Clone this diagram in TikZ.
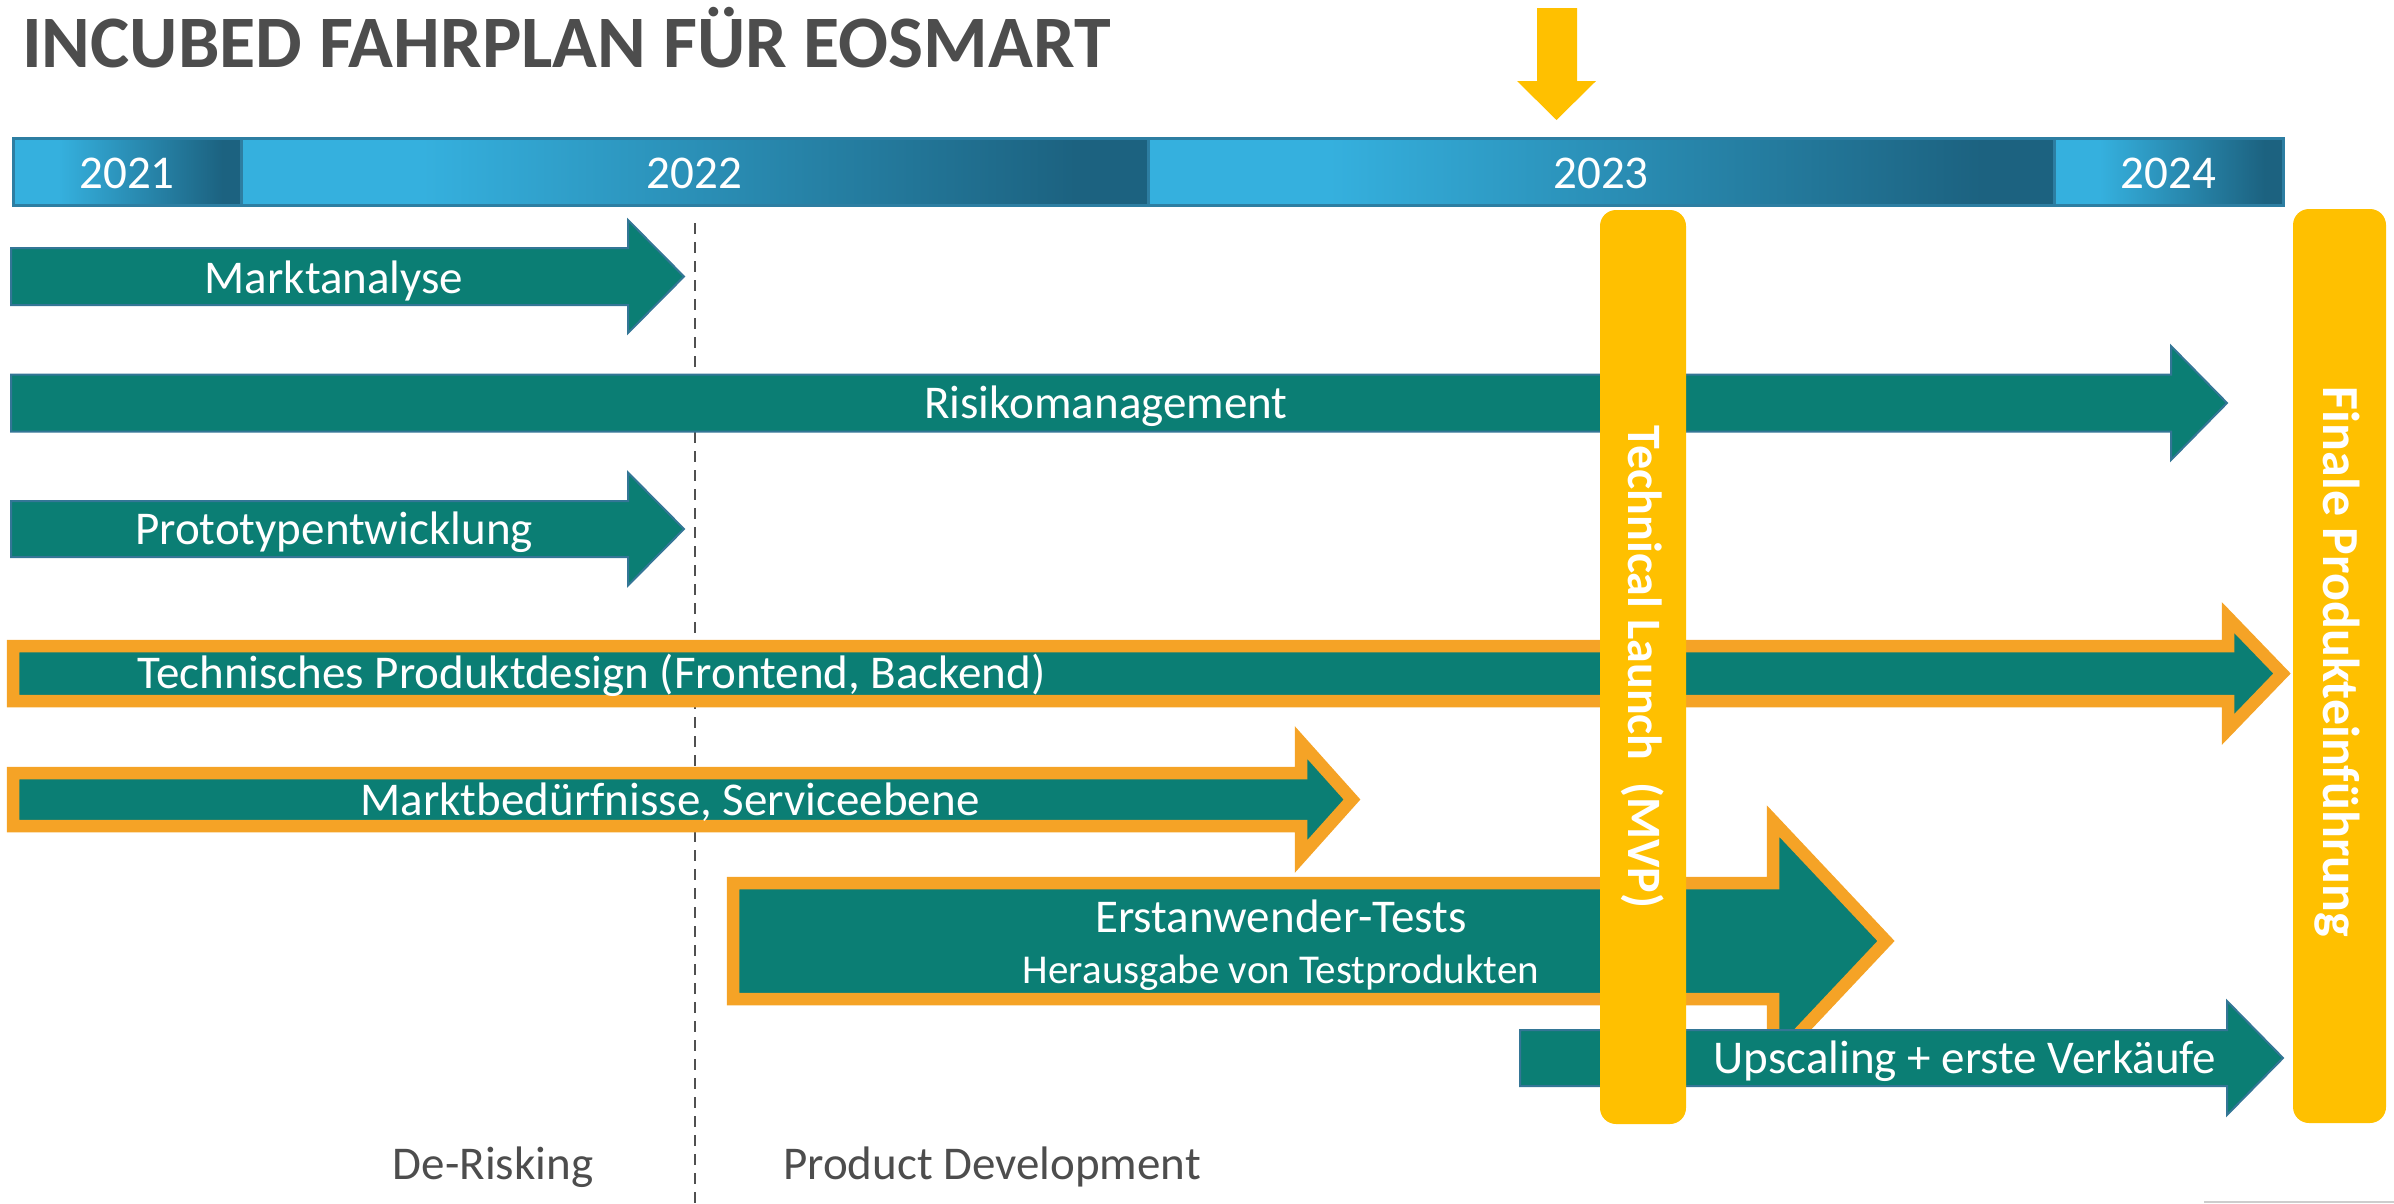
\documentclass[tikz,border=0pt]{standalone}
\usepackage{fontspec}
\setmainfont{Carlito}
\definecolor{taskteal}{RGB}{11,126,116}
\definecolor{tealedge}{RGB}{52,118,150}
\definecolor{ringorange}{RGB}{245,163,38}
\definecolor{mileyellow}{RGB}{255,192,0}
\definecolor{yrlight}{RGB}{53,176,222}
\definecolor{yrdark}{RGB}{28,98,128}
\definecolor{yredge}{RGB}{45,126,162}
\definecolor{inkgray}{RGB}{77,77,77}
\definecolor{dashgray}{RGB}{80,80,80}
\definecolor{rulegray}{RGB}{205,205,205}
\pgfdeclarehorizontalshading{yearshade}{100bp}{color(0bp)=(yrlight); color(35bp)=(yrlight); color(71bp)=(yrdark); color(100bp)=(yrdark)}

% block arrow: [style]{x start}{x head base}{x tip}{y centre}{half body}{half head}
\newcommand\taskarrow[7][]{%
  \path[#1] (#2,#5-#6) -- (#3,#5-#6) -- (#3,#5-#7) -- (#4,#5) -- (#3,#5+#7)
    -- (#3,#5+#6) -- (#2,#5+#6) -- cycle;}

\begin{document}
\begin{tikzpicture}[x=1pt,y=-1pt,
  plainarrow/.style={fill=taskteal, draw=tealedge, line width=2, line join=miter},
  ringarrow/.style={fill=taskteal, draw=ringorange, line width=12.5, line join=miter},
  yearseg/.style={shade, shading=yearshade, draw=yredge, line width=3},
  yearlabel/.style={anchor=base, inner sep=0, text=white, font=\fontsize{47}{56}\selectfont},
  tasklabel/.style={anchor=base, inner sep=0, text=white, font=\fontsize{47}{56}\selectfont},
  phaselabel/.style={anchor=base, inner sep=0, text=inkgray, font=\fontsize{47}{56}\selectfont},
  milestone/.style={fill=mileyellow, rounded corners=16},
  milelabel/.style={anchor=base, inner sep=0, rotate=-90, text=white}]
\useasboundingbox (0,0) rectangle (2394,1203);

% heading
\node[anchor=base west, inner sep=0, text=inkgray,
      font=\fontsize{74}{82}\selectfont\bfseries] (title) at (22,67)
      {INCUBED FAHRPLAN FÜR EOSMART};

% marker above the year band
\path[fill=mileyellow] (1537,8) -- (1577,8) -- (1577,81) -- (1596,81)
  -- (1556.5,120) -- (1517,81) -- (1537,81) -- cycle;

% year band
\path[yearseg] (13,138) rectangle (241,205);
\path[yearseg] (241,138) rectangle (1148,205);
\path[yearseg] (1148,138) rectangle (2054,205);
\path[yearseg] (2054,138) rectangle (2283,205);
\node[yearlabel] (y2021) at (127,188) {2021};
\node[yearlabel] (y2022) at (694.5,188) {2022};
\node[yearlabel] (y2023) at (1601,188) {2023};
\node[yearlabel] (y2024) at (2168.5,188) {2024};

% phase separator
\coordinate (septop) at (695,223);
\coordinate (sepbot) at (695,1203);
\draw[dashgray, line width=2.5, dash pattern=on 11pt off 8pt] (septop) -- (sepbot);

% work packages
\taskarrow[plainarrow]{11}{628}{684}{276.5}{28.5}{56.5}
\taskarrow[plainarrow]{11}{2171}{2227}{403}{28.5}{57}
\taskarrow[plainarrow]{11}{628}{684}{529}{28}{56.5}
\taskarrow[ringarrow]{13}{2228}{2282}{673.5}{27.5}{56}
\taskarrow[ringarrow]{13}{1301}{1352}{799.5}{26.5}{57}
\taskarrow[ringarrow]{733}{1773}{1886}{941}{58}{120}
\taskarrow[plainarrow]{1520}{2227}{2283}{1058}{28}{57}

\node[tasklabel] (markt) at (334,293) {Marktanalyse};
\node[tasklabel] (risiko) at (1106,418) {Risikomanagement};
\node[tasklabel] (proto) at (334,544) {Prototypentwicklung};
\node[tasklabel] (design) at (591.5,688) {Technisches Produktdesign (Frontend, Backend)};
\node[tasklabel] (bedarf) at (670,815) {Marktbedürfnisse, Serviceebene};
\node[tasklabel] (tests) at (1281,932) {Erstanwender-Tests};
\node[tasklabel, font=\fontsize{41}{50}\selectfont] (muster) at (1281,983) {Herausgabe von Testprodukten};
\node[tasklabel] (scale) at (1965,1073) {Upscaling + erste Verkäufe};

% milestones
\path[milestone] (1600,210) rectangle (1686,1124);
\path[milestone] (2293,209) rectangle (2386,1123);
\node[milelabel, font=\fontsize{48}{56}\selectfont\bfseries] (mvp) at (1628,667)
  {Technical Launch\ \ (MVP)};
\node[milelabel, font=\fontsize{52}{60}\selectfont\bfseries] (final) at (2323,662)
  {Finale Produkteinführung};

% phase names
\node[phaselabel] (derisk) at (493,1179) {De-Risking};
\node[phaselabel] (dev) at (992,1179) {Product Development};

% hairline at the lower right edge
\draw[rulegray, line width=2] (2204,1202) -- (2394,1202);
\end{tikzpicture}
\end{document}
